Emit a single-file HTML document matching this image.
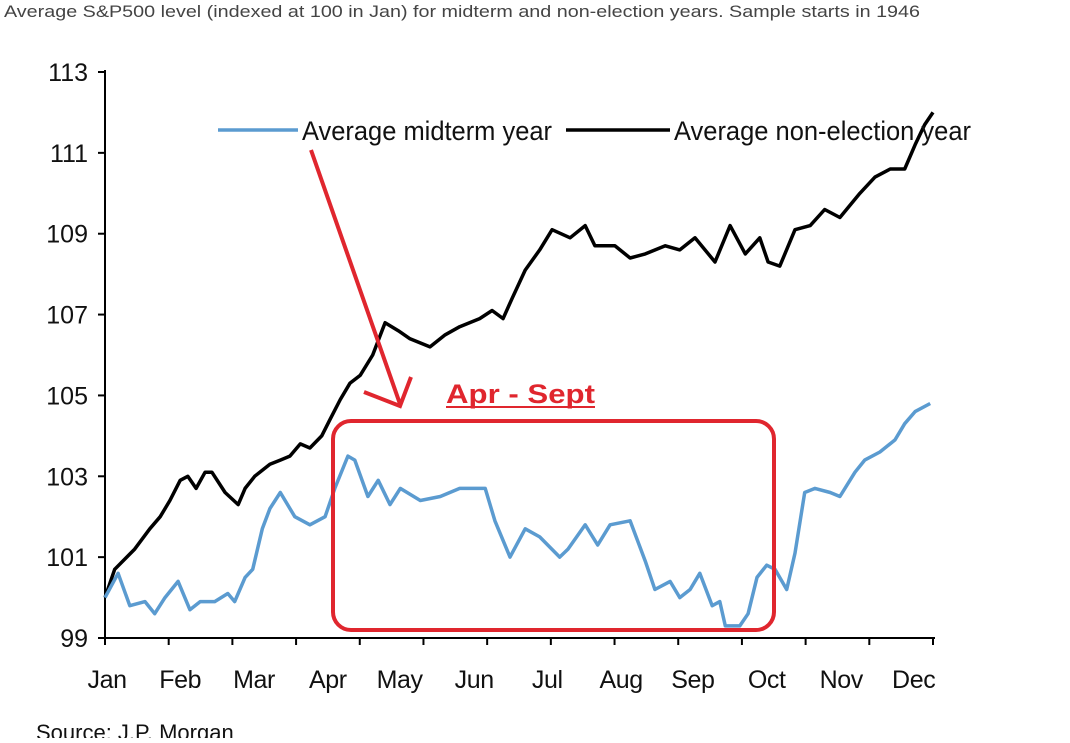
<!DOCTYPE html>
<html><head><meta charset="utf-8"><style>
body{margin:0;background:#fff;width:1070px;height:738px;overflow:hidden;font-family:"Liberation Sans",sans-serif}
svg text{font-family:"Liberation Sans",sans-serif}
</style></head><body>
<svg id="chart" width="1070" height="738" xmlns="http://www.w3.org/2000/svg">
<text x="4" y="17" font-size="17" fill="#444" textLength="916" lengthAdjust="spacingAndGlyphs">Average S&amp;P500 level (indexed at 100 in Jan) for midterm and non-election years. Sample starts in 1946</text>
<g id="axes"></g>
<g id="series"></g>
<g>
<line x1="218" y1="130" x2="298" y2="130" stroke="#5b9bd0" stroke-width="3.5"/>
<text x="302" y="140" font-size="27" fill="#111" textLength="250" lengthAdjust="spacingAndGlyphs">Average midterm year</text>
<line x1="566" y1="130" x2="670" y2="130" stroke="#000" stroke-width="3.5"/>
<text x="674" y="140" font-size="27" fill="#111" textLength="297" lengthAdjust="spacingAndGlyphs">Average non-election year</text>
</g>
<g>
<line x1="311" y1="150" x2="400" y2="404" stroke="#e0262e" stroke-width="4"/>
<polyline points="364,392 400,406 411,377" fill="none" stroke="#e0262e" stroke-width="4"/>
<rect x="333" y="421" width="441" height="209" rx="18" fill="none" stroke="#e0262e" stroke-width="4"/>
<text x="446" y="403" font-size="27" font-weight="bold" fill="#e0262e" textLength="149" lengthAdjust="spacingAndGlyphs">Apr - Sept</text>
<line x1="446" y1="407" x2="595" y2="407" stroke="#e0262e" stroke-width="2"/>
</g>
<text x="36" y="740" font-size="22" fill="#111">Source: J.P. Morgan</text>
</svg>
<script>
const yTicks=[99,101,103,105,107,109,111,113];
const months=["Jan","Feb","Mar","Apr","May","Jun","Jul","Aug","Sep","Oct","Nov","Dec"];
const monthLabelPos=[0.03,1.09,2.16,3.23,4.27,5.35,6.41,7.48,8.52,9.59,10.67,11.72];
const nonElecT=[0,.14,.43,.65,.8,.94,1.09,1.2,1.32,1.45,1.55,1.74,1.93,2.03,2.17,2.39,2.54,2.68,2.83,2.97,3.14,3.26,3.41,3.55,3.7,3.88,4.06,4.25,4.42,4.71,4.93,5.14,5.43,5.61,5.77,5.9,6.09,6.3,6.48,6.74,6.96,7.1,7.39,7.61,7.83,8.12,8.33,8.55,8.84,9.06,9.28,9.49,9.61,9.78,10,10.22,10.43,10.65,10.94,11.16,11.38,11.59,11.74,11.88,12];
const nonElecV=[100,100.7,101.2,101.7,102.0,102.4,102.9,103.0,102.7,103.1,103.1,102.6,102.3,102.7,103.0,103.3,103.4,103.5,103.8,103.7,104.0,104.4,104.9,105.3,105.5,106.0,106.8,106.6,106.4,106.2,106.5,106.7,106.9,107.1,106.9,107.4,108.1,108.6,109.1,108.9,109.2,108.7,108.7,108.4,108.5,108.7,108.6,108.9,108.3,109.2,108.5,108.9,108.3,108.2,109.1,109.2,109.6,109.4,110.0,110.4,110.6,110.6,111.2,111.7,112.0];
const midT=[0,.19,.36,.58,.72,.87,1.06,1.23,1.38,1.59,1.78,1.88,2.03,2.14,2.28,2.39,2.54,2.75,2.97,3.19,3.33,3.52,3.62,3.81,3.96,4.13,4.28,4.57,4.86,5.14,5.51,5.65,5.87,6.09,6.3,6.59,6.71,6.96,7.14,7.32,7.61,7.83,7.97,8.19,8.33,8.48,8.62,8.8,8.91,8.99,9.2,9.32,9.45,9.59,9.71,9.88,10,10.14,10.29,10.51,10.65,10.87,11.01,11.23,11.45,11.59,11.74,11.96];
const midV=[100,100.6,99.8,99.9,99.6,100.0,100.4,99.7,99.9,99.9,100.1,99.9,100.5,100.7,101.7,102.2,102.6,102.0,101.8,102.0,102.7,103.5,103.4,102.5,102.9,102.3,102.7,102.4,102.5,102.7,102.7,101.9,101.0,101.7,101.5,101.0,101.2,101.8,101.3,101.8,101.9,100.9,100.2,100.4,100.0,100.2,100.6,99.8,99.9,99.3,99.3,99.6,100.5,100.8,100.7,100.2,101.1,102.6,102.7,102.6,102.5,103.1,103.4,103.6,103.9,104.3,104.6,104.8];

const X0=105,X1=933,Y0=638,Y1=72;
const xS=t=>X0+(X1-X0)*t/12;
const yS=v=>Y0-(Y0-Y1)*(v-99)/14;
const NS="http://www.w3.org/2000/svg";
const axes=document.getElementById('axes'),series=document.getElementById('series');
function mk(tag,attrs,parent){const e=document.createElementNS(NS,tag);for(const k in attrs)e.setAttribute(k,attrs[k]);parent.appendChild(e);return e;}
let e=mk('line',{x1:X0,y1:Y1-2,x2:X0,y2:Y0,stroke:'#000','stroke-width':2},axes);


e=mk('line',{x1:X0,y1:Y0,x2:X1+2,y2:Y0,stroke:'#000','stroke-width':2},axes);


yTicks.forEach(v=>{
 const t=mk('line',{x1:X0-7,y1:yS(v),x2:X0,y2:yS(v),stroke:'#000','stroke-width':2},axes);
 
 
 const l=mk('text',{x:88,y:yS(v)+9,'font-size':25,'text-anchor':'end',fill:'#111'},axes);
 l.textContent=v;
 
 
});
for(let i=0;i<=13;i++){
 const x=X0+(X1-X0)*i/13;
 const t=mk('line',{x1:x,y1:Y0,x2:x,y2:Y0+7,stroke:'#000','stroke-width':2},axes);
 
 
}
months.forEach((m,i)=>{
 const l=mk('text',{x:xS(monthLabelPos[i]),y:688,'font-size':25,'text-anchor':'middle',fill:'#111','letter-spacing':'-0.4'},axes);
 l.textContent=m;
 
 
});
function line(ts,vs,color,name){
 const p=mk('polyline',{points:ts.map((t,i)=>xS(t).toFixed(1)+','+yS(vs[i]).toFixed(1)).join(' '),fill:'none',stroke:color,'stroke-width':3.5,'stroke-linejoin':'round'},series);
 
 
}
line(nonElecT,nonElecV,'#000','non-election-year-line');
line(midT,midV,'#5b9bd0','midterm-year-line');
</script>
</body></html>
